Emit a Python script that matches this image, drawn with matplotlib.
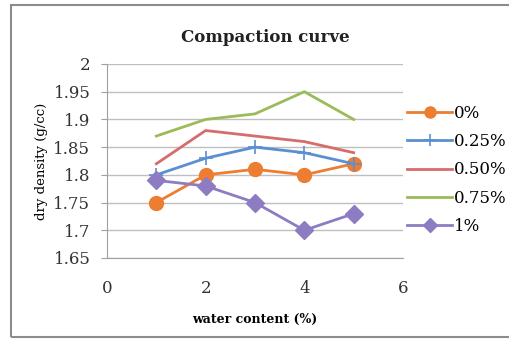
import matplotlib.pyplot as plt
from matplotlib.patches import Rectangle

plt.rcParams['font.family'] = ['DejaVu Serif']

water = [1, 2, 3, 4, 5]
fiber_0 = [1.75, 1.80, 1.81, 1.80, 1.82]
fiber_025 = [1.80, 1.83, 1.85, 1.84, 1.82]
fiber_050 = [1.82, 1.88, 1.87, 1.86, 1.84]
fiber_075 = [1.87, 1.90, 1.91, 1.95, 1.90]
fiber_1 = [1.79, 1.78, 1.75, 1.70, 1.73]
labels = ['0%', '0.25%', '0.50%', '0.75%', '1%']
yticks = [1.65, 1.7, 1.75, 1.8, 1.85, 1.9, 1.95, 2]
ytick_labels = ['1.65', '1.7', '1.75', '1.8', '1.85', '1.9', '1.95', '2']


def main():
    fig = plt.figure(figsize=(5.1, 3.4), dpi=100)
    fig.patches.append(Rectangle((11 / 510, 3 / 340), 1.1, 332 / 340, transform=fig.transFigure,
                                 fill=False, edgecolor='#8c8c8c', lw=1.5))
    ax = fig.add_axes([107 / 510, 1 - 258 / 340, 296 / 510, 194 / 340])

    ax.plot(water, fiber_0, color='#ed7d31', lw=2, marker='o', markersize=10, label=labels[0])
    ax.plot(water, fiber_025, color='#5b8fd0', lw=2, marker='+', markersize=10, mew=1.2, label=labels[1])
    ax.plot(water, fiber_050, color='#d66c6c', lw=2, label=labels[2])
    ax.plot(water, fiber_075, color='#9bbb59', lw=2, label=labels[3])
    ax.plot(water, fiber_1, color='#8e7cc3', lw=2, marker='D', markersize=9, label=labels[4])

    ax.set_xlim(0, 6)
    ax.set_ylim(1.65, 2)
    ax.set_xticks([0, 2, 4, 6])
    ax.set_yticks(yticks)
    ax.set_yticklabels(ytick_labels)
    ax.grid(axis='y', color='#bfbfbf', lw=1)
    ax.set_axisbelow(True)
    for side in ['top', 'right']:
        ax.spines[side].set_visible(False)
    ax.spines['left'].set_color('#a0a0a0')
    ax.spines['bottom'].set_color('#a0a0a0')
    ax.tick_params(axis='y', length=4, color='#a0a0a0', labelsize=12, pad=8, labelcolor='#333333')
    ax.tick_params(axis='x', length=0, labelsize=12, pad=16, labelcolor='#333333')

    # title is centred on the whole chart box, not on the plot area
    fig.text(265 / 510, 1 - 38 / 340, 'Compaction curve', fontsize=12, fontweight='bold',
             ha='center', va='center', color='#222222')
    ax.set_xlabel('water content (%)', fontsize=9, fontweight='bold', labelpad=11)
    ax.set_ylabel('dry density (g/cc)', fontsize=9.5, labelpad=4)

    ax.legend(loc='center left', bbox_to_anchor=(407 / 510, 1 - 170 / 340),
              bbox_transform=fig.transFigure, frameon=False, fontsize=12,
              handlelength=2.7, handletextpad=0.1, labelspacing=0.68, borderaxespad=0,
              borderpad=0, markerscale=0.8)

    plt.savefig('out.png', dpi=100)


main()
